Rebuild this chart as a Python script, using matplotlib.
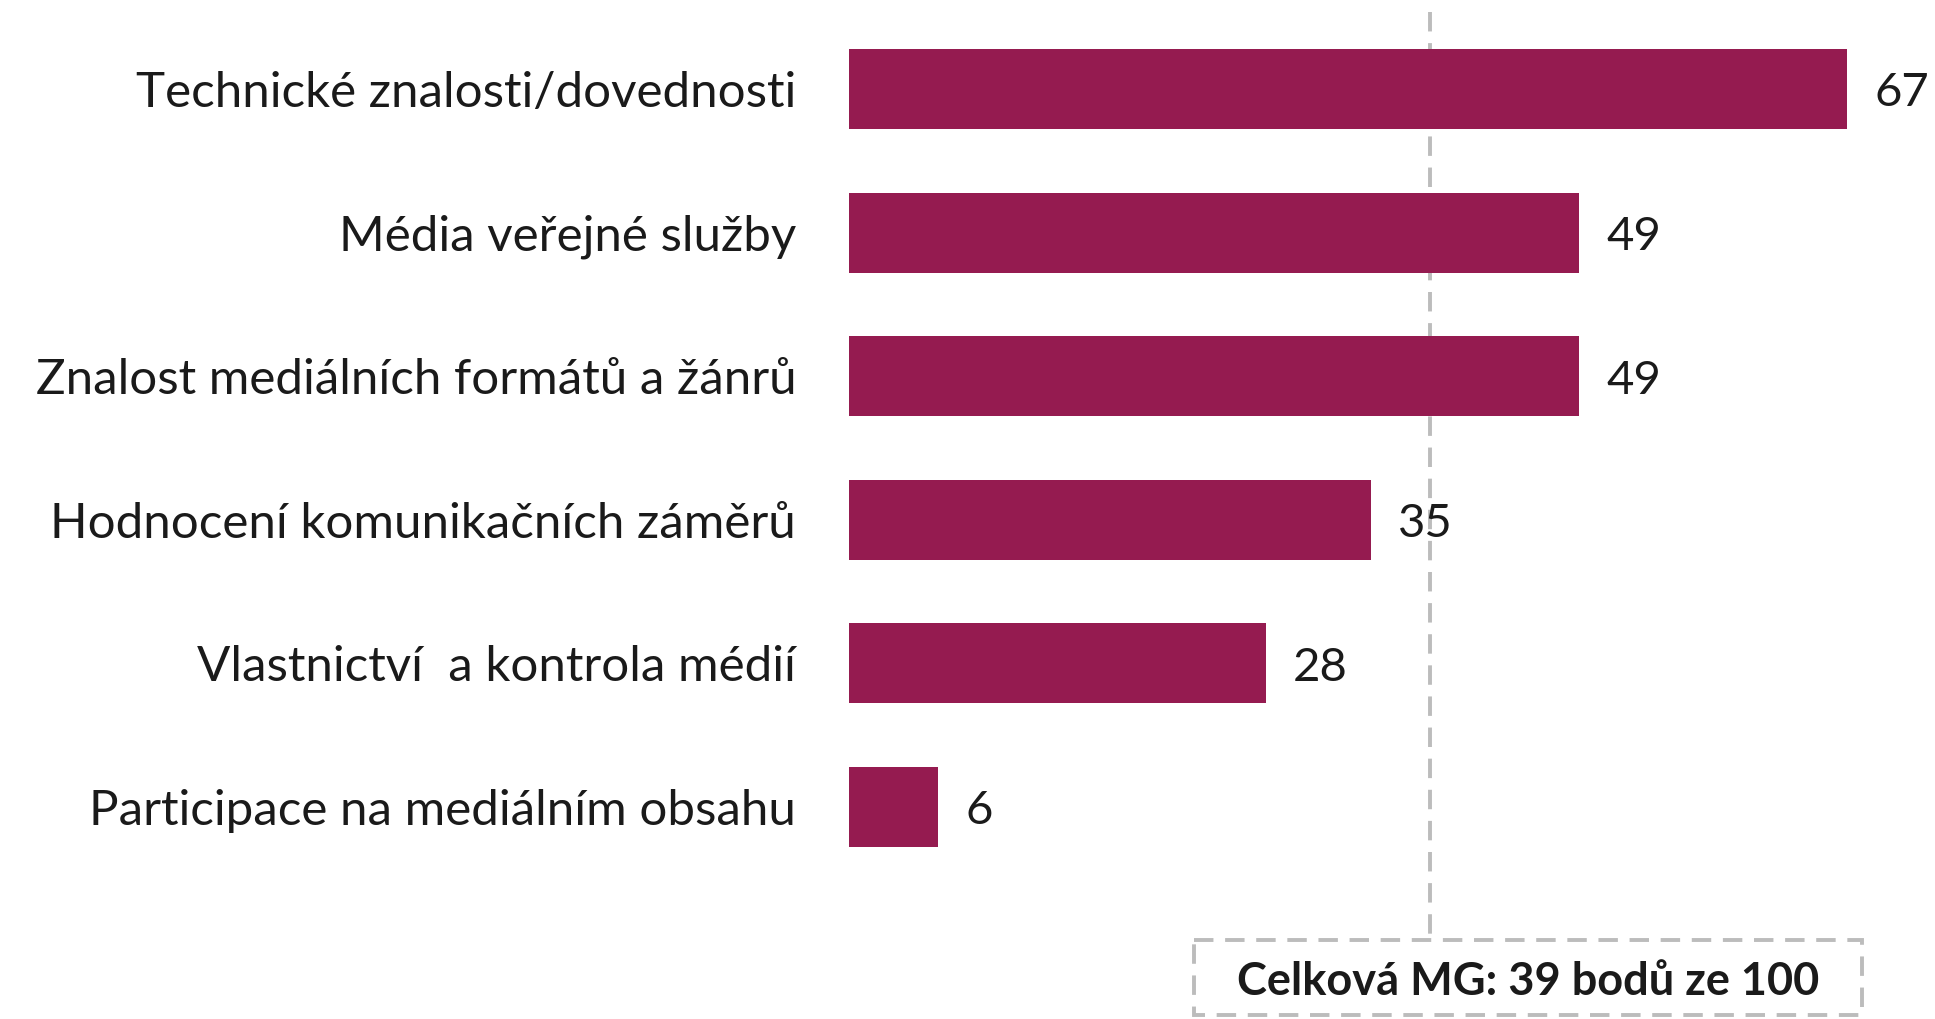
import matplotlib
matplotlib.use("Agg")
import matplotlib.pyplot as plt
from matplotlib.patches import Rectangle

categories = [
    "Technické znalosti/dovednosti",
    "Média veřejné služby",
    "Znalost mediálních formátů a žánrů",
    "Hodnocení komunikačních záměrů",
    "Vlastnictví  a kontrola médií",
    "Participace na mediálním obsahu",
]
values = [67, 49, 49, 35, 28, 6]
overall = 39
overall_label = "Celková MG: 39 bodů ze 100"

BAR = "#951b50"
GREY = "#bcbcbc"
TXT = "#1a1a1a"
plt.rcParams["font.family"] = ["Lato", "DejaVu Sans"]

W, H = 1935, 1019
fig = plt.figure(figsize=(W / 100, H / 100), dpi=100)
# axes spans from bar origin (x=849px) to the right edge, full height
x0 = 849
ax = fig.add_axes([x0 / W, 0, 1 - x0 / W, 1])
px_per_unit = 14.9
ax.set_xlim(0, (W - x0) / px_per_unit)
step = 143.6
ax.set_ylim(5 + (H - 807) / step, -89 / step)

ypos = list(range(len(categories)))
ax.barh(ypos, values, height=0.557, color=BAR)
for y, v in zip(ypos, values):
    ax.text(v + 27 / px_per_unit, y + 0.03, str(v), va="center", ha="left",
            fontsize=34, color=TXT)

ax.set_yticks(ypos)
ax.set_yticklabels(categories, fontsize=35.5, color=TXT)
ax.tick_params(axis="y", length=0, pad=38)
ax.tick_params(axis="x", bottom=False, labelbottom=False)
for s in ax.spines.values():
    s.set_visible(False)


def to_y(px):
    return (px - 89) / step


# dashed reference line down to the summary box
ax.plot([overall, overall], [to_y(12), to_y(940)], color=GREY, lw=2.8,
        ls=(0, (5, 3)), clip_on=False, zorder=0)

bx0, bx1 = 1194, 1862
box = Rectangle(((bx0 - x0) / px_per_unit, to_y(940)),
                (bx1 - bx0) / px_per_unit, to_y(1015) - to_y(940),
                fill=False, edgecolor=GREY, lw=2.8, ls=(0, (5, 3)),
                clip_on=False)
ax.add_patch(box)
ax.text(((bx0 + bx1) / 2 - x0) / px_per_unit, to_y(982), overall_label,
        ha="center", va="center", fontsize=32.5, fontweight="bold",
        color=TXT)

fig.savefig("out.png", dpi=100)
